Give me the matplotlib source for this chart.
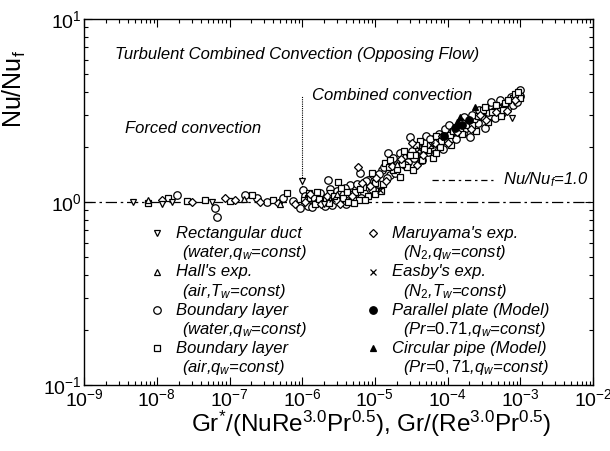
import matplotlib.pyplot as plt

plt.rcParams['font.family'] = ['Liberation Sans', 'DejaVu Sans']
plt.rcParams['mathtext.fontset'] = 'custom'
plt.rcParams['mathtext.rm'] = 'Liberation Sans'
plt.rcParams['mathtext.it'] = 'Liberation Sans:italic'
plt.rcParams['mathtext.bf'] = 'Liberation Sans:bold'

# Rectangular duct (water, q_w = const)
duct_x = [4.7e-9, 1.18e-8, 1.6e-8, 5.8e-8, 1.0e-6, 2.0e-6, 7.7e-4]
duct_y = [1.00, 0.98, 1.00, 1.00, 1.30, 0.97, 2.88]

# Hall's experiment (air, T_w = const)
hall_x = [7.6e-9, 1.6e-7, 5.0e-7, 3.0e-6, 2.0e-5]
hall_y = [1.03, 1.04, 0.98, 1.10, 1.62]

# Boundary layer (water, q_w = const)
blw_x = [1.9e-8, 6.8e-8, 6.3e-8, 1.64e-7, 2.4e-7, 3.3e-7, 5.5e-7, 7.5e-7, 9.4e-7,
         1.17e-6, 1.41e-6, 1.03e-6, 1.66e-6, 2.27e-6, 2.58e-6, 3.54e-6, 4.56e-6,
         6.26e-6, 8.06e-6, 1.26e-5, 1.52e-5, 2.08e-5, 2.44e-5, 3.05e-5, 3.93e-5,
         4.9e-5, 6.12e-5, 7.4e-5, 9.84e-5, 1.19e-4, 1.63e-4, 2.04e-4, 2.63e-4,
         3.28e-4, 4.5e-4, 5.62e-4, 6.8e-4, 9.04e-4, 9.94e-4,
         1.2e-6, 1.9e-6, 2.9e-6, 4.0e-6, 5.0e-6, 7.0e-6, 9.0e-6, 1.1e-5, 1.6e-5,
         1.9e-5, 2.9e-5, 3.6e-5, 4.5e-5, 5.4e-5, 6.7e-5, 8.7e-5, 1.3e-4, 1.8e-4,
         2.3e-4, 3.6e-4, 4.1e-4, 5.0e-4, 7.2e-4, 8.0e-4,
         1.1e-6, 1.35e-6, 1.75e-6, 2.05e-6, 2.45e-6, 3.0e-6, 3.9e-6, 4.4e-6,
         5.6e-6, 6.5e-6, 7.6e-6, 9.6e-6, 1.15e-5, 1.35e-5, 1.45e-5, 1.75e-5,
         2.2e-5, 2.6e-5, 3.2e-5, 3.4e-5, 4.1e-5, 5.1e-5, 5.8e-5, 7.7e-5,
         9.3e-5, 1.05e-4, 1.15e-4, 1.4e-4, 1.7e-4, 1.95e-4, 2.2e-4, 2.75e-4,
         3.0e-4, 3.9e-4, 4.4e-4, 5.3e-4, 6.0e-4, 7.5e-4, 9.0e-4, 1.0e-3]
blw_y = [1.09, 0.83, 0.93, 1.09, 1.05, 1.00, 1.05, 1.01, 0.93,
         1.01, 1.07, 1.16, 1.00, 1.32, 0.96, 1.13, 1.24,
         1.44, 1.32, 1.50, 1.85, 1.63, 1.76, 2.27, 2.00,
         2.10, 2.00, 2.18, 2.38, 2.54, 2.38, 2.27, 2.70,
         2.54, 2.88, 3.06, 3.30, 3.84, 4.09,
         0.95, 1.06, 1.03, 0.98, 1.05, 1.12, 1.18, 1.25, 1.40,
         1.45, 1.65, 1.81, 1.70, 1.88, 2.25, 1.95, 2.20, 2.55,
         2.85, 3.10, 3.30, 3.25, 3.55, 3.40,
         1.08, 0.94, 1.12, 0.95, 1.18, 1.15, 1.20, 1.10,
         1.25, 1.05, 1.30, 1.30, 1.42, 1.55, 1.35, 1.75,
         1.85, 1.60, 1.90, 1.75, 1.95, 2.30, 2.20, 2.35,
         2.50, 2.65, 2.40, 2.60, 2.90, 2.70, 3.00, 3.20,
         2.95, 3.50, 3.15, 3.60, 3.35, 3.75, 3.50, 3.80]

# Boundary layer (air, q_w = const)
bla_x = [7.6e-9, 1.43e-8, 2.6e-8, 4.6e-8, 1.02e-7, 2.05e-7, 3.98e-7, 6.2e-7,
         1.21e-6, 1.6e-6, 2.42e-6, 3.12e-6, 3.65e-6, 5.34e-6, 6.88e-6, 9.15e-6,
         1.01e-5, 1.38e-5, 1.62e-5, 1.78e-5, 2.22e-5, 2.77e-5, 3.35e-5, 3.57e-5,
         4.46e-5, 5.39e-5, 6.32e-5, 7.89e-5, 9.25e-5, 1.08e-4, 1.85e-4, 2.98e-4,
         3.61e-4, 4.09e-4, 4.95e-4, 6.18e-4, 7.96e-4, 9.94e-4,
         1.5e-6, 2.1e-6, 2.7e-6, 4.3e-6, 6.0e-6, 8.0e-6, 1.2e-5, 2.5e-5, 4.2e-5,
         7.0e-5, 1.1e-4, 1.5e-4, 2.5e-4, 3.1e-4, 5.5e-4, 8.5e-4,
         1.05e-6, 1.25e-6, 1.7e-6, 2.3e-6, 3.4e-6, 4.1e-6, 5.2e-6, 6.3e-6,
         7.4e-6, 1.0e-5, 1.3e-5, 1.55e-5, 2.0e-5, 2.35e-5, 3.0e-5, 3.7e-5,
         4.8e-5, 5.7e-5, 6.9e-5, 8.1e-5, 1.2e-4, 1.6e-4, 2.15e-4, 2.6e-4,
         3.3e-4, 4.6e-4, 5.8e-4, 6.8e-4, 9.3e-4]
bla_y = [0.99, 1.05, 1.01, 1.03, 1.01, 1.09, 1.02, 1.12,
         1.05, 1.13, 1.12, 1.29, 1.05, 1.13, 1.21, 1.44,
         1.27, 1.63, 1.70, 1.50, 1.37, 1.55, 1.50, 1.81,
         1.70, 1.92, 1.74, 2.00, 2.18, 2.32, 2.63, 2.91,
         2.73, 3.10, 3.26, 3.47, 3.70, 3.70,
         0.97, 1.02, 1.08, 1.00, 1.02, 1.08, 1.15, 1.90, 2.15,
         1.85, 2.05, 2.45, 2.45, 3.20, 2.95, 3.90,
         1.03, 1.12, 1.04, 0.99, 1.20, 1.14, 0.99, 1.18,
         1.02, 1.10, 1.25, 1.55, 1.52, 1.62, 1.80, 2.05,
         1.95, 2.05, 2.30, 2.15, 2.45, 2.35, 2.65, 2.95,
         3.30, 3.40, 3.20, 3.60, 4.00]

# Maruyama's experiment (N2, q_w = const)
maru_x = [1.18e-8, 3.06e-8, 8.7e-8, 1.19e-7, 2.64e-7, 4.67e-7, 8.0e-7,
          1.08e-6, 1.3e-6, 1.8e-6, 2.2e-6, 3.3e-6, 4.8e-6, 5.87e-6, 6.6e-6,
          8.5e-6, 1.05e-5, 1.4e-5, 1.7e-5, 2.3e-5, 3.25e-5, 3.8e-5, 4.6e-5,
          6.73e-5, 8.3e-5, 1.0e-4, 1.35e-4, 1.6e-4, 2.1e-4, 2.8e-4, 3.4e-4,
          4.7e-4, 6.5e-4, 8.6e-4]
maru_y = [1.02, 1.00, 1.05, 1.02, 1.00, 0.99, 0.97,
          1.00, 1.10, 0.98, 1.08, 0.97, 1.08, 1.55, 1.27,
          1.22, 1.35, 1.30, 1.58, 1.72, 2.10, 1.60, 1.81,
          2.10, 2.30, 2.10, 2.40, 2.75, 2.50, 3.00, 2.80,
          3.10, 3.15, 3.60]

# Easby's experiment (N2, T_w = const)
easby_x = [2.6e-6, 1.18e-5, 4.0e-5, 6.0e-5]
easby_y = [1.04, 1.16, 1.95, 2.05]

# Parallel plate model (Pr = 0.71, q_w = const)
plate_x = [9.0e-5, 1.25e-4, 1.6e-4, 2.0e-4]
plate_y = [2.30, 2.55, 2.65, 2.80]

# Circular pipe model (Pr = 0.71, q_w = const)
pipe_x = [1.35e-4, 1.49e-4, 2.39e-4]
pipe_y = [2.73, 2.91, 3.30]

series = [
    (blw_x, blw_y, 'o', 'white', 'Boundary layer', '(water,$q_w$=const)'),
    (bla_x, bla_y, 's', 'white', 'Boundary layer', '(air,$q_w$=const)'),
    (maru_x, maru_y, 'D', 'white', "Maruyama's exp.", '(N$_\\mathit{2}$,$q_w$=const)'),
    (duct_x, duct_y, 'v', 'white', 'Rectangular duct', '(water,$q_w$=const)'),
    (hall_x, hall_y, '^', 'white', "Hall's exp.", '(air,$T_w$=const)'),
    (easby_x, easby_y, 'x', 'black', "Easby's exp.", '(N$_\\mathit{2}$,$T_w$=const)'),
    (plate_x, plate_y, 'o', 'black', 'Parallel plate (Model)',
     '($Pr$=$\\mathit{0.71}$,$q_w$=const)'),
    (pipe_x, pipe_y, '^', 'black', 'Circular pipe (Model)',
     '($Pr$=$\\mathit{0,71}$,$q_w$=const)'),
]
sizes = {'o': 5.4, 's': 5.0, 'D': 4.2, 'v': 5.0, '^': 5.0, 'x': 4.0}

fig = plt.figure(figsize=(6.1, 4.51), dpi=100)
ax = fig.add_axes([0.138, 0.146, 0.834, 0.812])
ax.set_xscale('log')
ax.set_yscale('log')
ax.set_xlim(1e-9, 1e-2)
ax.set_ylim(1e-1, 1e1)

# reference level Nu/Nu_f = 1 and forced/combined boundary
ax.axhline(1.0, color='black', lw=0.9, dashes=(9, 3, 2, 3), zorder=1)
ax.plot([1e-6, 1e-6], [1.0, 3.8], color='black', lw=0.8, dashes=(1, 1), zorder=1)

for xs, ys, mk, fc, _, _ in series:
    ax.plot(xs, ys, ls='none', marker=mk, ms=sizes[mk], mfc=fc, mec='black',
            mew=0.9, zorder=3)

# in-axes key, two columns
fs = 12
legend_order = [3, 4, 0, 1, 2, 5, 6, 7]
rows_y = [0.415, 0.309, 0.205, 0.101]
for i, idx in enumerate(legend_order):
    xs, ys, mk, fc, title, sub = series[idx]
    col, row = divmod(i, 4)
    mx = [0.143, 0.568][col]
    tx = [0.181, 0.605][col]
    sx = [0.193, 0.627][col]
    y0 = rows_y[row]
    ax.plot([mx], [y0], ls='none', marker=mk, ms=sizes[mk], mfc=fc,
            mec='black', mew=0.9, transform=ax.transAxes, clip_on=False)
    ax.text(tx, y0, title, style='italic', fontsize=fs, va='center',
            transform=ax.transAxes)
    ax.text(sx, y0 - 0.054, sub, style='italic', fontsize=fs, va='center',
            transform=ax.transAxes)

ax.plot([0.683, 0.803], [0.560, 0.560], color='black', lw=0.9,
        dashes=(5, 3, 2, 3), transform=ax.transAxes)
ax.text(0.823, 0.560, 'Nu/Nu$_f$=1.0', style='italic', fontsize=fs,
        va='center', transform=ax.transAxes)

ax.text(0.061, 0.902, 'Turbulent Combined Convection (Opposing Flow)',
        style='italic', fontsize=fs, va='center', transform=ax.transAxes)
ax.text(0.448, 0.792, 'Combined convection', style='italic', fontsize=fs,
        va='center', transform=ax.transAxes)
ax.text(0.081, 0.702, 'Forced convection', style='italic', fontsize=fs,
        va='center', transform=ax.transAxes)

ax.set_xlabel('Gr$^{*}$/(NuRe$^{3.0}$Pr$^{0.5}$), Gr/(Re$^{3.0}$Pr$^{0.5}$)',
              fontsize=17.5)
ax.xaxis.set_label_coords(0.564, -0.065, transform=ax.transAxes)
ax.xaxis.label.set_va('top')
ax.set_ylabel('Nu/Nu$_\\mathrm{f}$', fontsize=18)
ax.yaxis.set_label_coords(-0.11, 0.81)

ax.tick_params(which='both', direction='in', top=True, right=True, width=0.8)
ax.tick_params(which='major', length=6, labelsize=14)
ax.tick_params(which='minor', length=3)
ax.tick_params(axis='y', pad=2)
ax.tick_params(axis='x', pad=2)
for sp in ax.spines.values():
    sp.set_linewidth(1.0)

fig.savefig('out.png', dpi=100)
